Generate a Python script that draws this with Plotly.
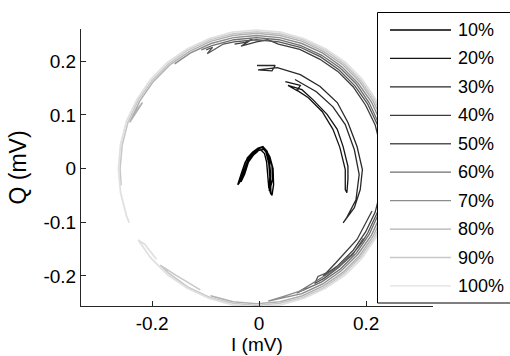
import plotly.graph_objects as go

# I/Q trajectories (mV) for each drive level
i10 = [-0.037, -0.030, -0.022, -0.012, -0.002, 0.007, 0.015, 0.019, 0.021, 0.022, 0.022,
       0.018, 0.016, 0.014, 0.010, 0.003, -0.006, -0.016, -0.024, -0.030, -0.034,
       -0.027, -0.020, -0.010, 0.000, 0.009, 0.017, 0.024, 0.025, 0.020,
       0.024, 0.027, 0.026, 0.020, 0.012, 0.004, -0.008, -0.018, -0.026, -0.033, -0.040,
       -0.038, -0.033, -0.028, -0.021, -0.014, -0.004, 0.006, 0.013, 0.018, 0.020, 0.019]
q10 = [-0.027, 0.000, 0.020, 0.031, 0.038, 0.041, 0.032, 0.015, -0.005, -0.025, -0.048,
       -0.035, -0.010, 0.012, 0.028, 0.035, 0.032, 0.022, 0.005, -0.015, -0.025,
       -0.010, 0.012, 0.026, 0.034, 0.036, 0.025, 0.005, -0.020, -0.040,
       -0.050, -0.030, 0.000, 0.022, 0.036, 0.039, 0.033, 0.024, 0.012, -0.008, -0.030,
       -0.028, -0.020, -0.002, 0.015, 0.027, 0.036, 0.040, 0.030, 0.010, -0.015, -0.042]

i20 = [0.049, 0.077, 0.071, 0.054, 0.080, 0.101, 0.127, 0.146, 0.157, 0.166, 0.166, 0.164,
       0.161, 0.161, 0.151, 0.138, 0.118, 0.092, 0.069]
q20 = [0.162, 0.155, 0.145, 0.155, 0.147, 0.128, 0.101, 0.073, 0.041, 0.004, -0.020, -0.045,
       -0.039, -0.002, 0.039, 0.073, 0.106, 0.132, 0.147]

i30 = [-0.004, 0.030, 0.024, -0.002, 0.034, 0.077, 0.114, 0.146, 0.166, 0.183, 0.193, 0.189,
       0.178, 0.157, 0.164, 0.181, 0.187, 0.178, 0.161, 0.138, 0.107, 0.067]
q30 = [0.192, 0.192, 0.182, 0.184, 0.188, 0.175, 0.153, 0.123, 0.086, 0.041, -0.002, -0.039,
       -0.073, -0.101, -0.091, -0.058, -0.011, 0.035, 0.082, 0.115, 0.143, 0.166]

i40 = [-0.046, -0.026, -0.013, -0.034, -0.005, 0.016, 0.036, 0.076, 0.113, 0.147, 0.176, 0.199,
       0.217, 0.227, 0.231, 0.227, 0.217, 0.199, 0.176, 0.147, 0.120, 0.143, 0.183, 0.211]
q40 = [0.232, 0.235, 0.241, 0.228, 0.236, 0.240, 0.232, 0.222, 0.204, 0.181, 0.152, 0.118,
       0.081, 0.041, 0.000, -0.041, -0.081, -0.118, -0.152, -0.181, -0.200, -0.176, -0.132, -0.079]

i50 = [-0.099, -0.087, -0.097, -0.067, -0.047, -0.005, 0.037, 0.077, 0.115, 0.149, 0.179, 0.203,
       0.221, 0.231, 0.235, 0.231, 0.221, 0.203, 0.192, 0.179, 0.149, 0.122, 0.104, 0.110, 0.146,
       0.175, 0.195]
q50 = [0.221, 0.226, 0.214, 0.232, 0.236, 0.240, 0.236, 0.226, 0.208, 0.184, 0.154, 0.120,
       0.082, 0.042, 0.000, -0.042, -0.082, -0.120, -0.138, -0.154, -0.184, -0.204, -0.214, -0.201,
       -0.186, -0.160, -0.130]

i60 = [-0.108, -0.088, -0.047, -0.005, 0.037, 0.078, 0.117, 0.152, 0.182, 0.206, 0.224,
       0.235, 0.239, 0.235, 0.224, 0.206, 0.182, 0.152, 0.117, 0.070, 0.096, 0.142, 0.169]
q60 = [0.221, 0.229, 0.240, 0.244, 0.240, 0.229, 0.211, 0.187, 0.157, 0.122, 0.083,
       0.042, 0.000, -0.042, -0.083, -0.122, -0.157, -0.187, -0.211, -0.232, -0.216, -0.188, -0.162]

i70 = [-0.158, -0.129, -0.090, -0.048, -0.005, 0.038, 0.080, 0.119, 0.154, 0.185, 0.210,
       0.228, 0.239, 0.243, 0.239, 0.228, 0.210, 0.185, 0.154, 0.119, 0.080, 0.017, 0.046, 0.086]
q70 = [0.195, 0.215, 0.233, 0.244, 0.248, 0.244, 0.233, 0.215, 0.190, 0.159, 0.124,
       0.085, 0.043, 0.000, -0.043, -0.085, -0.124, -0.159, -0.190, -0.215, -0.233, -0.247, -0.238,
       -0.225]

i80 = [-0.237, -0.218, -0.242, -0.223, -0.198, -0.167, -0.131, -0.091, -0.049, -0.005, 0.039,
       0.081, 0.121, 0.157, 0.188, 0.213, 0.232, 0.243, 0.247, 0.243, 0.232, 0.213, 0.188, 0.157,
       0.121, 0.081, 0.039, -0.005, -0.049, -0.091]
q80 = [0.099, 0.123, 0.086, 0.126, 0.162, 0.193, 0.218, 0.237, 0.248, 0.252, 0.248, 0.237,
       0.218, 0.193, 0.162, 0.126, 0.086, 0.044, 0.000, -0.044, -0.086, -0.126, -0.162, -0.193,
       -0.218, -0.237, -0.248, -0.252, -0.248, -0.237]

i90 = [-0.258, -0.260, -0.256, -0.245, -0.226, -0.200, -0.169, -0.133, -0.092, -0.049, -0.005,
       0.039, 0.082, 0.123, 0.159, 0.190, 0.216, 0.235, 0.246, 0.250, 0.246, 0.235, 0.216, 0.190,
       0.159, 0.123, 0.082, 0.039, -0.005, -0.049, -0.092, -0.133, -0.169, -0.185, -0.155, -0.110]
q90 = [-0.031, 0.000, 0.044, 0.087, 0.128, 0.164, 0.195, 0.221, 0.240, 0.251, 0.255,
       0.251, 0.240, 0.221, 0.195, 0.164, 0.128, 0.087, 0.044, 0.000, -0.044, -0.087, -0.128, -0.164,
       -0.195, -0.221, -0.240, -0.251, -0.255, -0.251, -0.240, -0.221, -0.195, -0.180, -0.199, -0.226]

i100 = [-0.243, -0.248, -0.259, -0.263, -0.259, -0.248, -0.228, -0.203, -0.171, -0.134, -0.093,
        -0.050, -0.005, 0.040, 0.083, 0.124, 0.161, 0.193, 0.218, 0.237, 0.249, 0.253, 0.249, 0.237,
        0.218, 0.193, 0.161, 0.124, 0.083, 0.040, -0.005, -0.050, -0.093, -0.134, -0.171, -0.203,
        -0.226, -0.214, -0.192]
q100 = [-0.101, -0.088, -0.045, 0.000, 0.045, 0.088, 0.129, 0.166, 0.198, 0.223, 0.242,
        0.254, 0.258, 0.254, 0.242, 0.223, 0.198, 0.166, 0.129, 0.088, 0.045, 0.000, -0.045, -0.088,
        -0.129, -0.166, -0.198, -0.223, -0.242, -0.254, -0.258, -0.254, -0.242, -0.223, -0.198, -0.166,
        -0.133, -0.141, -0.169]

labels = ['10%', '20%', '30%', '40%', '50%', '60%', '70%', '80%', '90%', '100%']
colors = ['#000000', '#141414', '#282828', '#3c3c3c', '#555555',
          '#6e6e6e', '#8c8c8c', '#b0b0b0', '#c8c8c8', '#e0e0e0']
widths = [1.4, 1.3, 1.3, 1.3, 1.3, 1.3, 1.4, 1.5, 1.6, 1.8]
series_i = [i10, i20, i30, i40, i50, i60, i70, i80, i90, i100]
series_q = [q10, q20, q30, q40, q50, q60, q70, q80, q90, q100]

x_ticks = [-0.2, 0, 0.2]
x_ticktext = ['-0.2', '0', '0.2']
y_ticks = [-0.2, -0.1, 0, 0.1, 0.2]
y_ticktext = ['-0.2', '-0.1', '0', '0.1', '0.2']

FONT = 'Liberation Sans, Arial, sans-serif'

fig = go.Figure()
for lab, col, lw, ii, qq in zip(labels, colors, widths, series_i, series_q):
    fig.add_trace(go.Scatter(x=ii, y=qq, mode='lines', name=lab,
                             line=dict(color=col, width=lw), showlegend=False))

# boxed legend with long line samples, drawn over the traces
ML, MR, MT, MB = 81, 77, 29, 50
W, H = 510, 356
pw, ph = W - ML - MR, H - MT - MB

def px_x(px):
    return (px - ML) / pw

def px_y(py):
    return (H - MB - py) / ph

shapes = [dict(type='rect', xref='paper', yref='paper',
               x0=px_x(377.5), x1=px_x(560), y0=px_y(303), y1=px_y(12.5),
               fillcolor='white', line=dict(color='#000000', width=1), layer='above')]
annotations = []
for k, (lab, col) in enumerate(zip(labels, colors)):
    yy = px_y(30 + 28.44 * k)
    shapes.append(dict(type='line', xref='paper', yref='paper',
                       x0=px_x(390), x1=px_x(451), y0=yy, y1=yy,
                       line=dict(color=col, width=1.3), layer='above'))
    annotations.append(dict(xref='paper', yref='paper', x=px_x(456), y=yy,
                            xanchor='left', yanchor='middle', text=lab, showarrow=False,
                            font=dict(family=FONT, size=18, color='#000000')))

# x-axis title placed low, just above the bottom edge of the page
annotations.append(dict(xref='paper', yref='paper', x=px_x(257), y=px_y(332),
                        xanchor='center', yanchor='top', text='I (mV)', showarrow=False,
                        font=dict(family=FONT, size=19, color='#000000')))

fig.update_layout(
    width=W, height=H,
    margin=dict(l=ML, r=MR, t=MT, b=MB, pad=0, autoexpand=False),
    paper_bgcolor='white', plot_bgcolor='white',
    font=dict(family=FONT, size=19, color='#000000'),
    shapes=shapes, annotations=annotations,
    showlegend=False,
)
fig.update_xaxes(range=[-0.333, 0.325], tickvals=x_ticks, ticktext=x_ticktext,
                 ticks='inside', ticklen=5, tickcolor='#262626', automargin=False,
                 showline=True, linecolor='#262626', linewidth=1,
                 showgrid=False, zeroline=False)
fig.update_yaxes(range=[-0.256, 0.26], tickvals=y_ticks, ticktext=y_ticktext,
                 ticks='inside', ticklen=5, tickcolor='#262626', automargin=False,
                 showline=True, linecolor='#262626', linewidth=1,
                 showgrid=False, zeroline=False,
                 title=dict(text='Q (mV)', standoff=10))

fig.write_html('out.html')
